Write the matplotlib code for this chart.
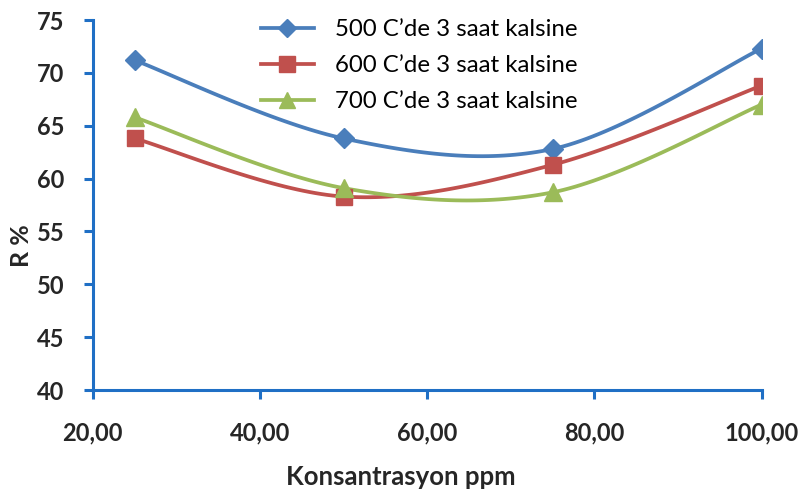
import numpy as np
import matplotlib
matplotlib.use("Agg")
import matplotlib.pyplot as plt
from matplotlib.lines import Line2D

# Concentration (ppm) and removal (R %) for three calcination temperatures
konsantrasyon = [25, 50, 75, 100]
r_500 = [71.2, 63.8, 62.8, 72.3]
r_600 = [63.8, 58.3, 61.3, 68.8]
r_700 = [65.8, 59.1, 58.7, 67.0]
series_names = ["500 C\u2019de 3 saat kalsine",
                "600 C\u2019de 3 saat kalsine",
                "700 C\u2019de 3 saat kalsine"]
x_ticks = [20, 40, 60, 80, 100]
y_ticks = [40, 45, 50, 55, 60, 65, 70, 75]


def smooth_curve(x, y, n=40):
    """Spreadsheet-style smoothed line: cubic Bezier through the points."""
    x = np.asarray(x, float)
    y = np.asarray(y, float)
    pts = np.column_stack([x, y])
    out = []
    for i in range(len(pts) - 1):
        p0 = pts[i - 1] if i > 0 else pts[i]
        p1 = pts[i]
        p2 = pts[i + 1]
        p3 = pts[i + 2] if i + 2 < len(pts) else pts[i + 1]
        c1 = p1 + (p2 - p0) / 6.0
        c2 = p2 - (p3 - p1) / 6.0
        t = np.linspace(0, 1, n)[:, None]
        seg = ((1 - t) ** 3) * p1 + 3 * ((1 - t) ** 2) * t * c1 \
            + 3 * (1 - t) * t ** 2 * c2 + t ** 3 * p2
        out.append(seg if i == 0 else seg[1:])
    seg = np.vstack(out)
    return seg[:, 0], seg[:, 1]


plt.rcParams["font.family"] = ["Lato", "DejaVu Sans"]

fig = plt.figure(figsize=(8.0, 4.92), dpi=100)
ax = fig.add_axes([0.116, 0.2073, 0.836, 0.752])

colors = ["#4A7EBB", "#C0504D", "#9BBB59"]
markers = ["D", "s", "^"]
msizes = [10, 12, 12.5]
handles = []
for vals, col, mk, ms, name in zip([r_500, r_600, r_700], colors, markers,
                                   msizes, series_names):
    sx, sy = smooth_curve(konsantrasyon, vals)
    ax.plot(sx, sy, color=col, lw=2.7, solid_capstyle="round", zorder=2)
    ax.plot(konsantrasyon, vals, linestyle="none", marker=mk, ms=ms,
            color=col, markeredgecolor=col, zorder=3)
    handles.append(Line2D([0], [0], color=col, lw=2.7, marker=mk, ms=ms - 1,
                          markeredgecolor=col, label=name))

ax.set_xlim(20, 100)
ax.set_ylim(40, 75)
ax.set_xticks(x_ticks)
ax.set_xticklabels([f"{v:.2f}".replace(".", ",") for v in x_ticks])
ax.set_yticks(y_ticks)

axis_blue = "#1F6FC5"
for side in ["top", "right"]:
    ax.spines[side].set_visible(False)
for side in ["left", "bottom"]:
    ax.spines[side].set_color(axis_blue)
    ax.spines[side].set_linewidth(2.2)
ax.tick_params(axis="both", direction="out", length=6.5, width=2.2,
               color=axis_blue, labelsize=17, labelcolor="#262626")
ax.tick_params(axis="y", pad=14)
ax.tick_params(axis="x", pad=16)
for lab in ax.get_xticklabels() + ax.get_yticklabels():
    lab.set_fontweight("bold")

ax.set_xlabel("Konsantrasyon ppm", fontsize=18.5, fontweight="bold",
              color="#262626")
ax.xaxis.set_label_coords(0.46, -0.204)
ax.set_ylabel("R %", fontsize=18, fontweight="bold", color="#262626")
ax.yaxis.set_label_coords(-0.089, 0.39)

leg = fig.legend(handles=handles, loc="upper left",
                 bbox_to_anchor=(0.299, 1.005), frameon=False, fontsize=17.3,
                 handlelength=2.2, handletextpad=0.9, labelspacing=0.62,
                 borderpad=0.4)

fig.savefig("out.png", dpi=100, facecolor="white")
